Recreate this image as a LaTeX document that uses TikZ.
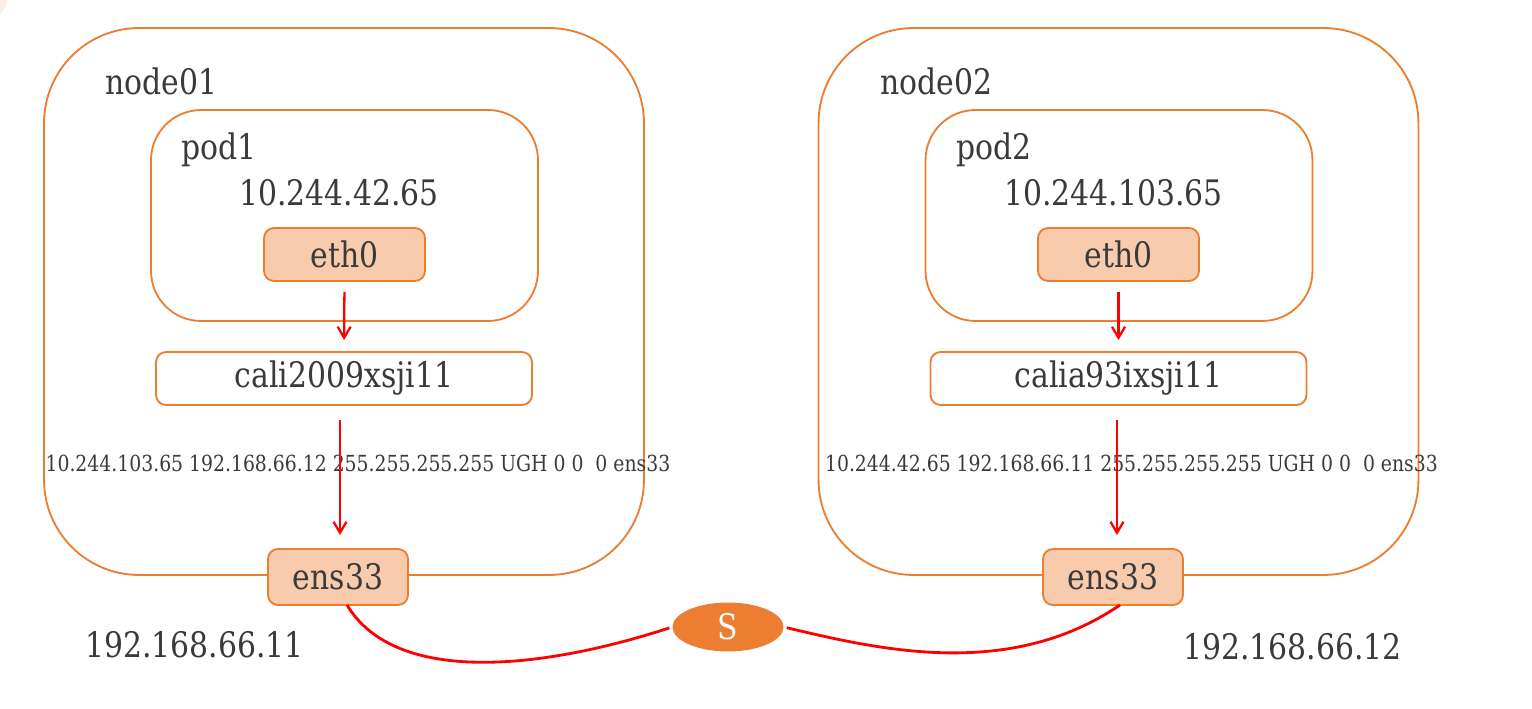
\documentclass[tikz,border=0pt]{standalone}
\usepackage{fontspec}
\setmainfont[FakeStretch=0.85]{DejaVu Serif}
\usetikzlibrary{shapes.geometric,arrows.meta}
\definecolor{orng}{HTML}{ED7D31}
\definecolor{peach}{HTML}{F8CBAD}
\definecolor{txt}{HTML}{3A3A3A}
\definecolor{faint}{HTML}{FCEEE4}
\tikzset{
  hostbox/.style={draw=orng, line width=1.05pt, rectangle, rounded corners=1.9cm, inner sep=0pt, outer sep=0pt, minimum width=12cm, minimum height=10.94cm},
  podbox/.style={draw=orng, line width=1.05pt, rectangle, rounded corners=1.0cm, inner sep=0pt, outer sep=0pt, minimum width=7.74cm, minimum height=4.22cm},
  ifbox/.style={draw=orng, fill=peach, line width=1.05pt, rectangle, rounded corners=0.2cm, inner sep=0pt, outer sep=0pt, text=txt, font=\fontsize{20}{23}\selectfont},
  calibox/.style={draw=orng, fill=white, line width=1.05pt, rectangle, rounded corners=0.2cm, inner sep=0pt, outer sep=0pt, minimum width=7.52cm, minimum height=1.06cm, text=txt, font=\fontsize{20}{23}\selectfont},
  biglabel/.style={text=txt, font=\fontsize{20}{23}\selectfont, inner sep=0pt, anchor=base west},
  routelabel/.style={text=txt, font=\fontsize{12.6}{14}\selectfont, inner sep=0pt, anchor=base},
  flow/.style={draw=red, line width=1.3pt, -{Straight Barb[length=2.2mm,width=2.6mm,line width=1.3pt]}},
  wire/.style={draw=red, line width=1.6pt},
  switchnode/.style={ellipse, fill=orng, draw=none, minimum width=2.22cm, minimum height=0.98cm, inner sep=0pt, text=white, font=\fontsize{20}{23}\selectfont}
}
\begin{document}
\begin{tikzpicture}[x=0.02cm, y=-0.02cm]
\path[use as bounding box] (0,0) rectangle (1532,709);
\begin{scope}
\clip (0,0) rectangle (1532,709);
\fill[faint] (-30,-10) circle (39);
\end{scope}

% ---------- node01 ----------
\node[hostbox] (host1) at (344,301.5) {};
\node[podbox] (pod1) at (344.5,215.5) {};
\node[biglabel] (host1lbl) at (105,95) {node01};
\node[biglabel] (pod1lbl) at (181,160) {pod1};
\node[biglabel, anchor=base] (pod1ip) at (339,206) {10.244.42.65};
\node[ifbox, minimum width=3.22cm, minimum height=1.06cm] (eth1) at (344.5,254.5) {eth0};
\node[calibox] (cali1) at (344,378.5) {cali2009xsji11};
\node[ifbox, minimum width=2.8cm, minimum height=1.12cm] (ens1) at (338,577) {ens33};
\node[routelabel] (route1) at (358,472) {10.244.103.65 192.168.66.12 255.255.255.255 UGH 0 0\ \ 0 ens33};
\node[biglabel] (ip1) at (85,657) {192.168.66.11};
\draw[flow, shorten <=0.22cm, shorten >=0.24cm] (eth1.south) -- (cali1.north);
\draw[flow, shorten <=0.3cm, shorten >=0.28cm] ([xshift=0.04cm]ens1.north |- cali1.south) -- ([xshift=0.04cm]ens1.north);

% ---------- node02 ----------
\node[hostbox] (host2) at (1118.5,301.5) {};
\node[podbox] (pod2) at (1119,215.5) {};
\node[biglabel] (host2lbl) at (880,95) {node02};
\node[biglabel] (pod2lbl) at (956,160) {pod2};
\node[biglabel, anchor=base] (pod2ip) at (1113.5,206) {10.244.103.65};
\node[ifbox, minimum width=3.22cm, minimum height=1.06cm] (eth2) at (1118.5,254.5) {eth0};
\node[calibox] (cali2) at (1118.5,378.5) {calia93ixsji11};
\node[ifbox, minimum width=2.8cm, minimum height=1.12cm] (ens2) at (1113,577) {ens33};
\node[routelabel] (route2) at (1131.5,472) {10.244.42.65 192.168.66.11 255.255.255.255 UGH 0 0\ \ 0 ens33};
\node[biglabel] (ip2) at (1183,659) {192.168.66.12};
\draw[flow, shorten <=0.22cm, shorten >=0.24cm] (eth2.south) -- (cali2.north);
\draw[flow, shorten <=0.3cm, shorten >=0.28cm] ([xshift=0.08cm]ens2.north |- cali2.south) -- ([xshift=0.08cm]ens2.north);

% ---------- switch ----------
\node[switchnode] (sw) at (728,627) {S};
\draw[wire, shorten >=0.06cm] ([xshift=0.18cm]ens1.south) .. controls (395,685) and (540,670) .. (sw.west);
\draw[wire, shorten <=0.06cm] (sw.east) .. controls (880,650) and (1010,680) .. ([xshift=0.14cm]ens2.south);
\end{tikzpicture}
\end{document}
